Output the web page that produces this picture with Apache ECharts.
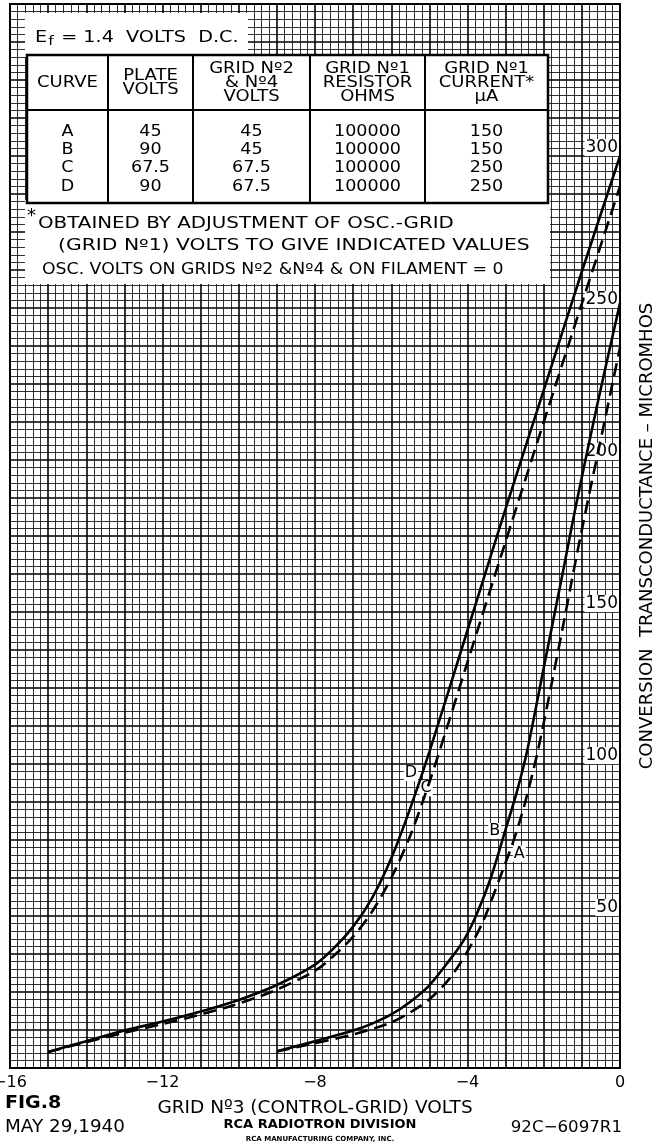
<!DOCTYPE html>
<html><head><meta charset="utf-8">
<script src="https://cdn.jsdelivr.net/npm/echarts/dist/echarts.min.js"></script>
<style>html,body{margin:0;padding:0;background:#fff}#c{width:654px;height:1144px}</style>
</head><body><div id="c"></div>
<script>
// ---- data ----
const curveNames = ['A', 'B', 'C', 'D'];
// [Grid No.3 volts, conversion transconductance (micromhos)]
const curveA = [[-9,5.4],[-8,8.2],[-7,11],[-6,15],[-5.5,18.3],[-5,22.6],[-4.5,29],[-4.04,37.5],[-3.6,48],[-3.15,62.6],[-2.83,73.4],[-2.6,82.4],[-2.4,91.6],[-2.15,104.6],[-1.8,126],[-1.5,145],[-1.13,169],[-0.84,186.8],[-0.4,213],[0,237]];
const curveB = [[-9,5.5],[-8,8.8],[-7,12.3],[-6.5,14.6],[-6,17.6],[-5.5,21.8],[-5,27.2],[-4.5,35],[-4.1,42],[-3.78,50],[-3.39,62.5],[-3.0,78.5],[-2.7,91.1],[-2.43,104.6],[-2,131.7],[-1.5,163],[-1.14,186],[-0.6,218],[0,251.6]];
const curveC = [[-15,5.3],[-14,8.5],[-13,11.6],[-12,14.5],[-11,17.6],[-10,21.2],[-9,25.8],[-8,32],[-7.5,37],[-7,43.2],[-6.5,51.5],[-6,62.5],[-5.5,76.5],[-5,94],[-4.5,113.5],[-4,133.5],[-3,173.2],[-2,212.5],[-1,251.5],[0,290]];
const curveD = [[-15,5.3],[-14,8.8],[-13,12.3],[-12,15.3],[-11,18.6],[-10,22.4],[-9,27.3],[-8,34],[-7.5,39.5],[-7,46.5],[-6.5,56],[-6,69],[-5.5,85.5],[-5,104],[-4,144],[-3,184],[-2,223],[-1,262],[0,300]];
const xTickLabels = [-16, -12, -8, -4, 0];
const yTickLabels = [50, 100, 150, 200, 250, 300];
const tableHeader = ['CURVE', 'PLATE\nVOLTS', 'GRID Nº2\n& Nº4\nVOLTS', 'GRID Nº1\nRESISTOR\nOHMS', 'GRID Nº1\nCURRENT*\nµA'];
const tableRows = [
  ['A', '45', '45', '100000', '150'],
  ['B', '90', '45', '100000', '150'],
  ['C', '67.5', '67.5', '100000', '250'],
  ['D', '90', '67.5', '100000', '250']
];
const noteLines = ['OBTAINED BY ADJUSTMENT OF OSC.-GRID', '(GRID Nº1) VOLTS TO GIVE INDICATED VALUES', 'OSC. VOLTS ON GRIDS Nº2 &Nº4 & ON FILAMENT = 0'];
const heaterNote = ['E', 'f', '=1.4 VOLTS D.C.'];
const footer = { fig: 'FIG.8', date: 'MAY 29,1940', division: 'RCA RADIOTRON DIVISION', company: 'RCA MANUFACTURING COMPANY, INC.', code: '92C−6097R1' };
const xTitle = 'GRID Nº3 (CONTROL-GRID) VOLTS';
const yTitle = 'CONVERSION  TRANSCONDUCTANCE – MICROMHOS';

// ---- chart ----
const FONT = 'DejaVu Sans';
const chart = echarts.init(document.getElementById('c'), null, { renderer: 'canvas' });
const curves = { A: curveA, B: curveB, C: curveC, D: curveD };
const dashed = { A: true, B: false, C: true, D: false };
// label anchor: y value where the letter sits, and which side of the curve
const labelCfg = { D: { at: 97, pos: 'left', off: [-1, 0] }, C: { at: 92, pos: 'inside', off: [-1, 0] }, B: { at: 78, pos: 'left', off: [-1, 0] }, A: { at: 70.5, pos: 'right', off: [1, 0] } };

function xAt(data, g) {
  for (let i = 1; i < data.length; i++) {
    const [x0, y0] = data[i - 1], [x1, y1] = data[i];
    if ((g - y0) * (g - y1) <= 0) return x0 + (x1 - x0) * (g - y0) / (y1 - y0);
  }
  return data[data.length - 1][0];
}

const series = curveNames.map(n => ({
  name: n, type: 'line', data: curves[n], showSymbol: false, smooth: 0.3,
  lineStyle: { color: '#000', width: 2.6, type: dashed[n] ? [13, 7] : 'solid' },
  z: 5,
  markPoint: {
    symbol: 'circle', symbolSize: 0, silent: true,
    data: [{ coord: [xAt(curves[n], labelCfg[n].at), labelCfg[n].at] }],
    label: { show: true, formatter: n, position: labelCfg[n].pos, offset: labelCfg[n].off, distance: 3,
      color: '#000', fontFamily: FONT, fontSize: 16, backgroundColor: '#fff', padding: [0, 1, 0, 1] }
  }
}));

function txt(x, y, text, size, opt) {
  opt = opt || {};
  return { type: 'text', x: x, y: y, z: 20, scaleX: opt.sx || 1,
    style: { text: text, fill: '#000', font: (opt.bold ? 'bold ' : '') + size + 'px "' + (opt.family || FONT) + '"',
      align: opt.align || 'center', verticalAlign: 'middle', textAlign: opt.align || 'center', textVerticalAlign: 'middle',
      lineHeight: opt.lh || size + 1 } };
}

const graphics = [];
// white panels
graphics.push({ type: 'rect', z: 15, shape: { x: 25, y: 13, width: 223, height: 44 }, style: { fill: '#fff' } });
graphics.push({ type: 'rect', z: 15, shape: { x: 25, y: 200, width: 525, height: 84 }, style: { fill: '#fff' } });
graphics.push({ type: 'rect', z: 16, shape: { x: 27, y: 55, width: 521, height: 148 }, style: { fill: '#fff', stroke: '#000', lineWidth: 2.5 } });
graphics.push({ type: 'line', z: 17, shape: { x1: 27, y1: 110, x2: 548, y2: 110 }, style: { stroke: '#000', lineWidth: 2 } });
const colX = [27, 108, 193, 310, 425, 548];
for (let i = 1; i < colX.length - 1; i++)
  graphics.push({ type: 'line', z: 17, shape: { x1: colX[i], y1: 55, x2: colX[i], y2: 203 }, style: { stroke: '#000', lineWidth: 2 } });
// heater note
graphics.push({ type: 'text', x: 35, y: 38, z: 20, scaleX: 1.2, style: {
  text: '{a|' + heaterNote[0] + '}{s|' + heaterNote[1] + '}{a|' + heaterNote[2].replace('=', ' = ').replace(' VOLTS ', '  VOLTS  ') + '}', align: 'left', verticalAlign: 'middle',
  rich: { a: { font: '16px "' + FONT + '"', fill: '#000' }, s: { font: '13px "' + FONT + '"', fill: '#000', padding: [8, 1, 0, 1] } } } });
// header
tableHeader.forEach((h, i) => {
  const cx = (colX[i] + colX[i + 1]) / 2;
  graphics.push(txt(cx, 83, h, 15, { lh: 14, sx: 1.2 }));
});
const rowY = [132, 150, 168, 187];
tableRows.forEach((r, j) => r.forEach((v, i) => {
  const cx = (colX[i] + colX[i + 1]) / 2;
  graphics.push(txt(cx, rowY[j], v, 15, { sx: 1.17 }));
}));
// notes
graphics.push(txt(27, 216, '*', 18, { align: 'left' }));
graphics.push(txt(38, 224, noteLines[0], 16, { align: 'left', sx: 1.24 }));
graphics.push(txt(58, 246, noteLines[1], 16, { align: 'left', sx: 1.27 }));
graphics.push(txt(42, 270, noteLines[2], 16, { align: 'left', sx: 1.08 }));
// footer
graphics.push(txt(5, 1104, footer.fig, 17, { align: 'left', bold: true, sx: 1.12 }));
graphics.push(txt(5, 1128, footer.date, 17, { align: 'left', sx: 1.08 }));
graphics.push(txt(320, 1125, footer.division, 13, { bold: true }));
graphics.push(txt(320, 1139, footer.company, 7, { bold: true }));
graphics.push(txt(622, 1128, footer.code, 16, { align: 'right', sx: 1.04 }));

const option = {
  animation: false,
  backgroundColor: '#fff',
  grid: { left: 10, right: 34, top: 4, bottom: 76, show: true, borderColor: '#000', borderWidth: 2, outerBoundsMode: 'none', containLabel: false },
  xAxis: {
    type: 'value', min: -16, max: 0, interval: 1,
    axisLine: { show: true, lineStyle: { color: '#000', width: 2 } },
    axisTick: { show: false },
    axisLabel: { color: '#000', fontFamily: FONT, fontSize: 16, margin: 7, hideOverlap: false,
      formatter: v => xTickLabels.indexOf(v) >= 0 ? String(v).replace('-', '−') : '' },
    splitLine: { show: true, lineStyle: { color: '#000', width: 1.6 } },
    minorTick: { show: false, splitNumber: 5 },
    minorSplitLine: { show: true, lineStyle: { color: '#1a1a1a', width: 0.9 } },
    name: xTitle, nameLocation: 'middle', nameGap: 31,
    nameTextStyle: { color: '#000', fontFamily: FONT, fontSize: 18.5 }
  },
  yAxis: {
    type: 'value', position: 'right', min: 0, max: 350, interval: 12.5,
    axisLine: { show: true, lineStyle: { color: '#000', width: 2 } },
    axisTick: { show: false },
    axisLabel: { inside: true, color: '#000', fontFamily: FONT, fontSize: 17, margin: 1, verticalAlign: 'bottom',
      backgroundColor: '#fff', padding: [0, 1, 0, 1], hideOverlap: false,
      formatter: v => yTickLabels.indexOf(v) >= 0 ? String(v) : '' },
    splitLine: { show: true, lineStyle: { color: '#000', width: 1.6 } },
    minorTick: { show: false, splitNumber: 5 },
    minorSplitLine: { show: true, lineStyle: { color: '#1a1a1a', width: 0.9 } },
    name: yTitle, nameLocation: 'middle', nameRotate: 90, nameGap: 18,
    nameTextStyle: { color: '#000', fontFamily: FONT, fontSize: 18 }
  },
  series: series,
  graphic: graphics
};
chart.setOption(option);
</script></body></html>
